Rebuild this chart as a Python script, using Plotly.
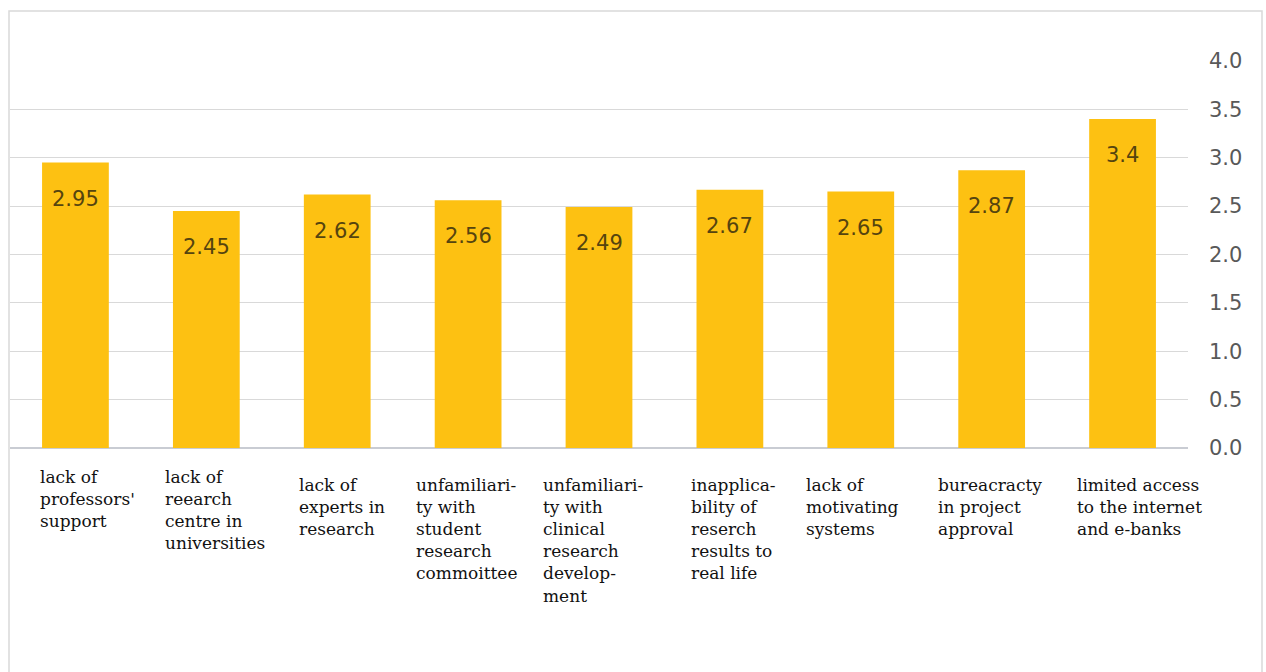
import plotly.graph_objects as go

# Barriers to student research: mean scores
categories = [
    "lack of<br>professors'<br>support",
    "lack of<br>reearch<br>centre in<br>universities",
    "lack of<br>experts in<br>research",
    "unfamiliari-<br>ty with<br>student<br>research<br>commoittee",
    "unfamiliari-<br>ty with<br>clinical<br>research<br>develop-<br>ment",
    "inapplica-<br>bility of<br>reserch<br>results to<br>real life",
    "lack of<br>motivating<br>systems",
    "bureacracty<br>in project<br>approval",
    "limited access<br>to the internet<br>and e-banks",
]
scores = [2.95, 2.45, 2.62, 2.56, 2.49, 2.67, 2.65, 2.87, 3.4]
score_text = ["2.95", "2.45", "2.62", "2.56", "2.49", "2.67", "2.65", "2.87", "3.4"]
y_ticks = [0, 0.5, 1.0, 1.5, 2.0, 2.5, 3.0, 3.5, 4.0]

# label placement tweaks (pixels)
label_dx = [-37, -43, -40, -54, -58, -41, -57, -56, -48]
label_dy = [-17, -17, -25, -25, -25, -25, -25, -25, -25]

x_idx = list(range(len(scores)))

fig = go.Figure()
fig.add_trace(go.Bar(
    x=x_idx,
    y=scores,
    marker=dict(color="#FDC112", line=dict(width=0)),
    hoverinfo="skip",
))

annotations = []
for i, (v, t) in enumerate(zip(scores, score_text)):
    annotations.append(dict(
        x=i, y=v, xref="x", yref="y", text=t, showarrow=False,
        yanchor="middle", yshift=-36,
        font=dict(family="DejaVu Sans", size=21, color="#55440f"),
    ))
for i, lab in enumerate(categories):
    annotations.append(dict(
        x=i, y=0, xref="x", yref="paper", text=lab, showarrow=False,
        xanchor="left", yanchor="top", align="left",
        xshift=label_dx[i], yshift=label_dy[i],
        font=dict(family="DejaVu Serif", size=17, color="#111111"),
    ))

W, H = 1266, 672
ml, mr, mt, mb = 10, 78, 61, 224
pw, ph = W - ml - mr, H - mt - mb

fig.update_layout(
    width=W, height=H,
    margin=dict(l=ml, r=mr, t=mt, b=mb),
    paper_bgcolor="white", plot_bgcolor="white",
    showlegend=False,
    bargap=0.49,
    annotations=annotations,
    xaxis=dict(
        range=[-0.5, len(scores) - 0.5],
        showticklabels=False, showgrid=False, zeroline=False,
        showline=False, ticks="", fixedrange=True,
    ),
    yaxis=dict(
        range=[0, 4.0], side="right",
        tickvals=y_ticks, ticktext=[f"{v:.1f}" for v in y_ticks],
        tickfont=dict(family="DejaVu Sans", size=21, color="#595959"),
        showgrid=True, gridcolor="#d9d9d9", gridwidth=1,
        zeroline=True, zerolinecolor="#c9ccd3", zerolinewidth=2,
        showline=False, ticks="", ticklabelstandoff=20,
    ),
    shapes=[dict(
        type="rect", xref="paper", yref="paper",
        x0=(9 - ml) / pw, x1=(1262 - ml) / pw,
        y0=-1.0, y1=(H - mb - 11) / ph,
        line=dict(color="#d9d9d9", width=1.5), fillcolor="rgba(0,0,0,0)",
        layer="below",
    )],
)

fig.write_html("out.html")
